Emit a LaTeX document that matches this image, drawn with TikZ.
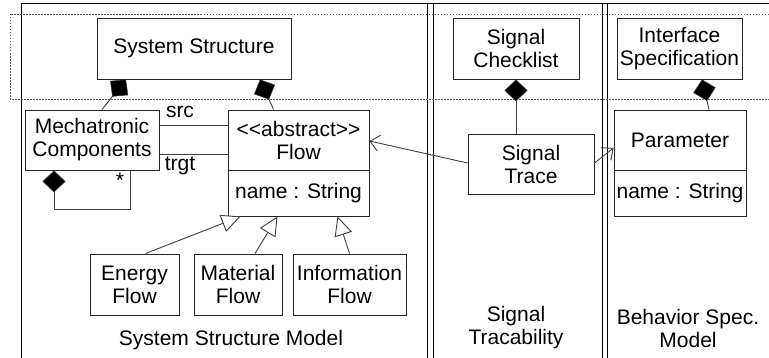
\documentclass[tikz,border=0pt]{standalone}
\usepackage{fontspec}
\setmainfont[Ligatures=NoCommon]{Liberation Sans}
\usetikzlibrary{arrows.meta}
\begin{document}
\begin{tikzpicture}[x=1pt,y=-1pt,
  font=\fontsize{21}{23}\selectfont,
  box/.style={draw=black!85,line width=0.9pt,inner sep=0pt,align=center},
  conn/.style={draw=black!75,line width=0.9pt},
  comp/.style={conn,{Diamond[length=22pt,width=23pt,fill=black,line width=0.5pt]}-},
  gen/.style={conn,-{Triangle[open,length=19pt,width=18pt,fill=white]}},
  nav/.style={conn,-{Straight Barb[length=9pt,width=16pt,line width=0.9pt]}},
  frame/.style={draw=black,line width=1pt},
  lbl/.style={inner sep=0pt,align=center}]
\useasboundingbox (0,0) rectangle (769,358);
\clip (0,0) rectangle (769,358);
\fill[white] (0,0) rectangle (769,358);
% frames
\draw[frame] (21,360) -- (21,4) -- (772,4);
\draw[frame] (427,4) -- (427,360);
\draw[frame] (433,4) -- (433,360);
\draw[frame] (602,4) -- (602,360);
\draw[frame] (607,4) -- (607,360);
% dotted region
\draw[black!65,line width=0.8pt,dash pattern=on 1.5pt off 1.5pt] (775,14) -- (10,14) -- (10,99) -- (775,99);
% nodes
\node[box,minimum width=194pt,minimum height=61pt] (sys) at (194,48.5) {System Structure};
\node[box,minimum width=134pt,minimum height=60pt] (mech) at (92,140) {Mechatronic\\Components};
\node[box,minimum width=141pt,minimum height=60pt] (flow) at (298.5,140) {<{}<abstract>{}>\\Flow};
\node[box,minimum width=141pt,minimum height=46pt] (flowattr) at (298.5,193) {name : String};
\node[box,minimum width=89pt,minimum height=61pt] (energy) at (134.5,284.5) {Energy\\Flow};
\node[box,minimum width=88pt,minimum height=61pt] (material) at (238,284.5) {Material\\Flow};
\node[box,minimum width=113pt,minimum height=61pt] (info) at (349.5,284.5) {Information\\Flow};
\node[box,minimum width=126pt,minimum height=61pt] (check) at (516,48.5) {Signal\\Checklist};
\node[box,minimum width=126pt,minimum height=60pt] (trace) at (531,164) {Signal\\Trace};
\node[box,minimum width=125pt,minimum height=61pt] (iface) at (679.5,48.5) {Interface\\Specification};
\node[box,minimum width=132pt,minimum height=60pt] (param) at (680,140) {Parameter};
\node[box,minimum width=132pt,minimum height=46pt] (paramattr) at (680,193) {name : String};
% labels
\node[lbl] (src) at (180,112) {src};
\node[lbl] (trgt) at (180,166) {trgt};
\node[lbl] (star) at (120,180) {*};
\node[lbl] (m1) at (231,340) {System Structure Model};
\node[lbl] (m2) at (516,328) {Signal\\Tracability};
\node[lbl] (m3) at (688,328) {Behavior Spec.\\Model};
% compositions
\draw[comp] ([xshift=-68pt]sys.south) -- ([xshift=10pt]mech.north);
\draw[comp] ([xshift=66pt]sys.south) -- ([xshift=-25pt]flow.north);
\draw[comp] ([xshift=-38pt]mech.south) |- ([xshift=38pt,yshift=-39pt]mech.south) -- ([xshift=38pt]mech.south);
\draw[comp] (check.south) -- ([xshift=-15pt]trace.north);
\draw[comp] ([xshift=22.5pt]iface.south) -- ([xshift=29pt]param.north);
% associations
\draw[conn] ([yshift=15pt]mech.east) -- ([yshift=15pt]flow.west);
\draw[conn] ([yshift=-14pt]mech.east) -- ([yshift=-14pt]flow.west);
% generalizations
\draw[gen] ([xshift=11pt]energy.north) -- ([xshift=-58pt]flowattr.south);
\draw[gen] ([xshift=17pt]material.north) -- ([xshift=-21pt]flowattr.south);
\draw[gen] (info.north) -- ([xshift=39pt]flowattr.south);
% navigable
\draw[nav] ([yshift=1pt]trace.west) -- ([yshift=-1pt]flow.east);
\draw[nav] ([yshift=1pt]trace.east) -- ([yshift=-8pt]param.west);
\end{tikzpicture}
\end{document}
